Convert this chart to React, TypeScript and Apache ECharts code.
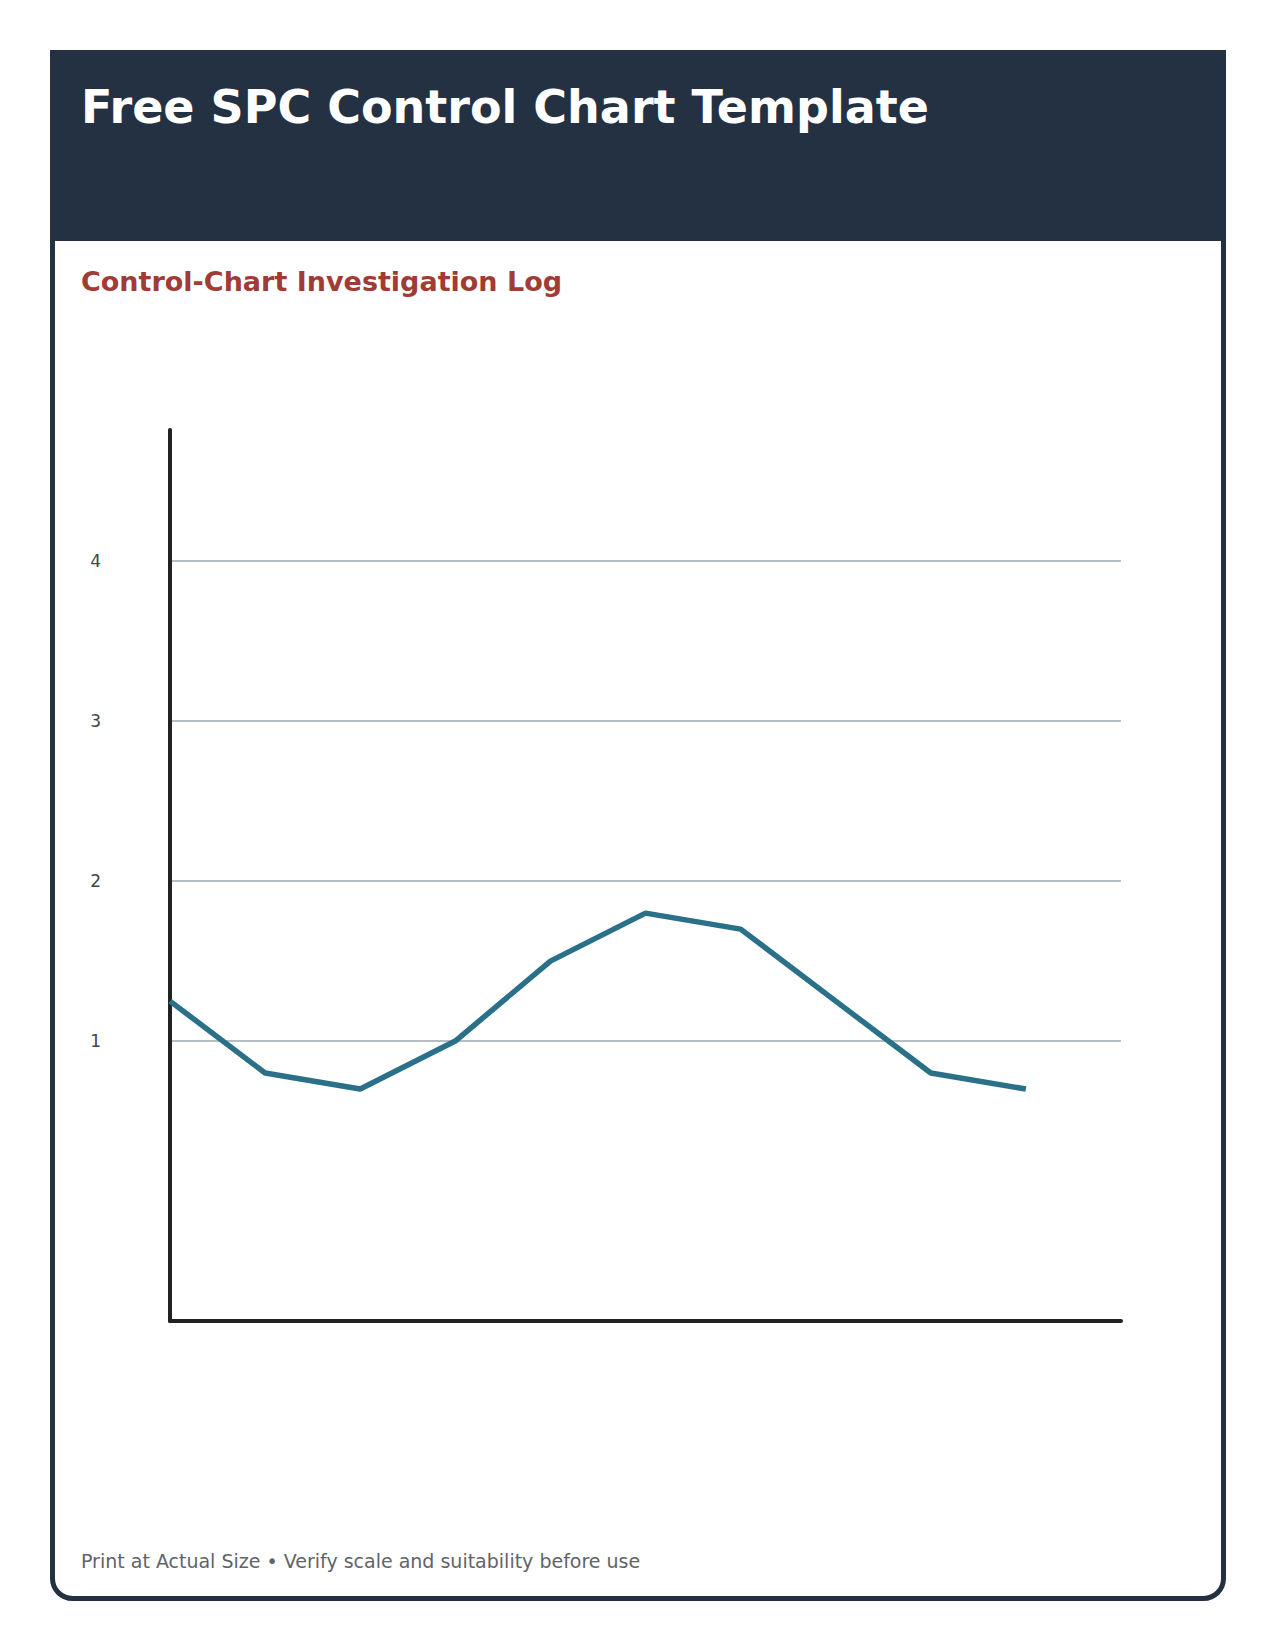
import { useEffect, useRef } from 'react';
import * as echarts from 'echarts';

const sampleIndex = [0, 1, 2, 3, 4, 5, 6, 7, 8, 9];
const sampleValues = [1.25, 0.8, 0.7, 1.0, 1.5, 1.8, 1.7, 1.25, 0.8, 0.7];
const yTickValues = [1, 2, 3, 4];

const TITLE = 'Free SPC Control Chart Template';
const SUBTITLE = 'Control-Chart Investigation Log';
const FOOTER = 'Print at Actual Size \u2022 Verify scale and suitability before use';

const FONT = '"DejaVu Sans", Verdana, sans-serif';
const NAVY = '#243142';

export default function App() {
  const chartRef = useRef<HTMLDivElement>(null);

  useEffect(() => {
    document.body.style.margin = '0';
    if (!chartRef.current) return;
    const chart = echarts.init(chartRef.current, undefined, { renderer: 'svg' });

    const option: echarts.EChartsOption = {
      animation: false,
      backgroundColor: '#ffffff',
      graphic: [
        // page frame, only its bottom corners are rounded
        {
          type: 'rect',
          z: -10,
          shape: { x: 52.5, y: 52.5, width: 1171, height: 1546, r: [0, 0, 20, 20] },
          style: { fill: '#ffffff', stroke: NAVY, lineWidth: 5 },
        },
        {
          type: 'rect',
          z: -9,
          shape: { x: 50, y: 50, width: 1176, height: 191 },
          style: { fill: NAVY },
        },
        {
          type: 'text',
          x: 81,
          y: 107,
          style: {
            text: TITLE,
            fill: '#ffffff',
            font: `bold 46px ${FONT}`,
            verticalAlign: 'middle',
          },
        },
        {
          type: 'text',
          x: 81,
          y: 281,
          style: {
            text: SUBTITLE,
            fill: '#a03c35',
            font: `bold 27px ${FONT}`,
            verticalAlign: 'middle',
          },
        },
        {
          type: 'text',
          x: 81,
          y: 1561,
          style: {
            text: FOOTER,
            fill: '#5f6469',
            font: `19px ${FONT}`,
            verticalAlign: 'middle',
          },
        },
      ],
      grid: {
        left: 170,
        right: 154,
        top: 430,
        bottom: 1650 - 1321,
        containLabel: false,
      },
      xAxis: {
        type: 'value',
        min: 0,
        max: 10,
        axisLine: { show: true, onZero: false, lineStyle: { color: '#222222', width: 4 } },
        axisTick: { show: false },
        axisLabel: { show: false },
        splitLine: { show: false },
      },
      yAxis: {
        type: 'value',
        min: -0.75,
        max: 4.82,
        axisLine: { show: true, onZero: false, lineStyle: { color: '#222222', width: 4 } },
        axisTick: { show: false, customValues: yTickValues },
        axisLabel: {
          customValues: yTickValues,
          color: '#444444',
          fontSize: 17,
          fontFamily: FONT,
          margin: 69,
        },
        splitLine: { show: true, lineStyle: { color: '#b5bfc3', width: 2 } },
      },
      series: [
        {
          type: 'line',
          data: sampleIndex.map((x, i) => [x, sampleValues[i]]),
          showSymbol: false,
          symbol: 'none',
          lineStyle: { color: '#2a7089', width: 5.5 },
          z: 3,
        },
      ],
    };

    chart.setOption(option);

    return () => {
      chart.dispose();
    };
  }, []);

  return <div ref={chartRef} style={{ width: 1275, height: 1650 }} />;
}
